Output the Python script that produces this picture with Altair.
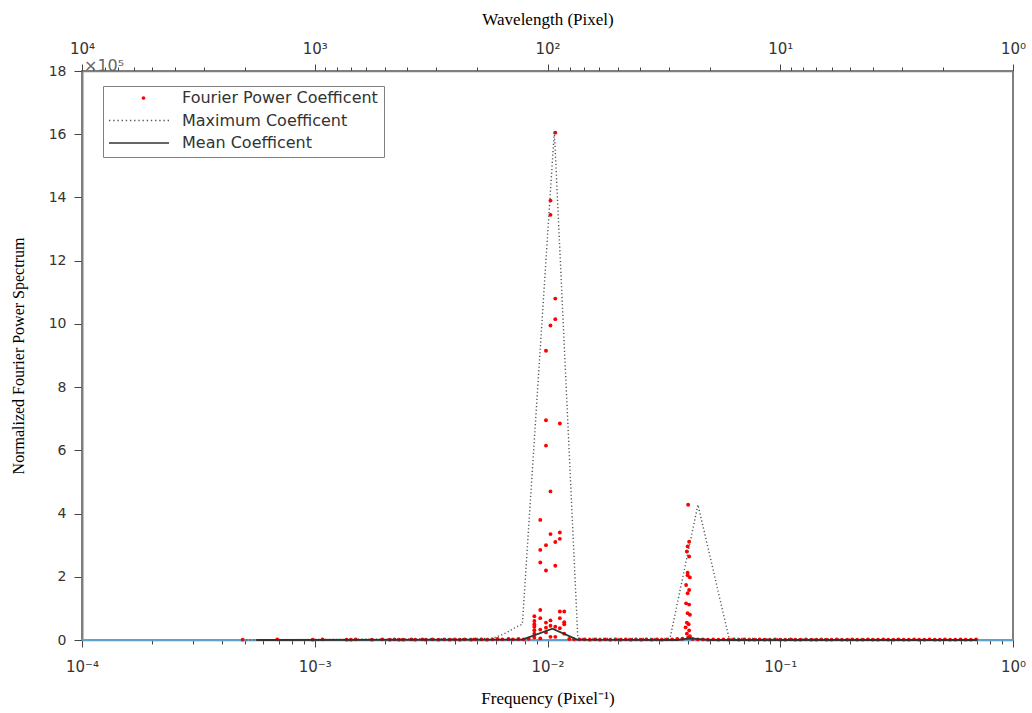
import altair as alt
import pandas as pd

# ---------------- data (frequency in 1/pixel, power in units of 1e5) ----------------
# near-zero Fourier power coefficients along the whole spectrum
BASE_POINTS = [
    (0.00049, 0.01), (0.00069, 0.02), (0.00098, 0.01), (0.00108, 0.02), (0.00137, 0.01),
    (0.00143, 0.01), (0.00150, 0.02), (0.00176, 0.01), (0.00195, 0.02),
    (0.0021, 0.01), (0.0022, 0.02), (0.0023, 0.01), (0.0024, 0.01), (0.0026, 0.02),
    (0.0027, 0.01), (0.0029, 0.02), (0.0030, 0.01), (0.0032, 0.02), (0.0034, 0.01),
    (0.0036, 0.02), (0.0038, 0.01), (0.0040, 0.02), (0.0042, 0.01), (0.0044, 0.02),
    (0.0047, 0.01), (0.0049, 0.02), (0.0052, 0.02), (0.0055, 0.01), (0.0058, 0.02),
    (0.0061, 0.03), (0.0064, 0.02), (0.0068, 0.03), (0.0071, 0.02), (0.0075, 0.03),
    (0.0079, 0.02), (0.0083, 0.04),
    (0.0124, 0.03), (0.0130, 0.02), (0.0137, 0.02), (0.0144, 0.02), (0.0152, 0.01),
    (0.0160, 0.02), (0.0168, 0.01), (0.0177, 0.02), (0.0186, 0.01), (0.0196, 0.02),
    (0.0206, 0.01), (0.0217, 0.02), (0.0228, 0.01), (0.0240, 0.02), (0.0253, 0.01),
    (0.0266, 0.02), (0.0280, 0.01), (0.0295, 0.02), (0.0310, 0.01), (0.0326, 0.02),
    (0.0343, 0.02), (0.0361, 0.03), (0.0380, 0.04),
    (0.0420, 0.03), (0.0442, 0.02), (0.0465, 0.02), (0.0489, 0.01), (0.0515, 0.02),
    (0.0542, 0.01), (0.0570, 0.02), (0.0600, 0.01), (0.0631, 0.02), (0.0664, 0.01),
    (0.0699, 0.02), (0.0736, 0.01), (0.0774, 0.01), (0.0815, 0.02), (0.0857, 0.01),
    (0.0902, 0.01), (0.0950, 0.02), (0.100, 0.01), (0.105, 0.01), (0.111, 0.02),
    (0.116, 0.01), (0.122, 0.01), (0.129, 0.02), (0.136, 0.01), (0.143, 0.01),
    (0.150, 0.02), (0.158, 0.01), (0.166, 0.01), (0.175, 0.02), (0.184, 0.01),
    (0.194, 0.01), (0.204, 0.02), (0.214, 0.01), (0.226, 0.01), (0.238, 0.02),
    (0.250, 0.01), (0.263, 0.01), (0.277, 0.02), (0.291, 0.01), (0.306, 0.01),
    (0.322, 0.02), (0.339, 0.01), (0.357, 0.01), (0.376, 0.02), (0.395, 0.01),
    (0.416, 0.01), (0.438, 0.02), (0.461, 0.01), (0.485, 0.01), (0.510, 0.02),
    (0.537, 0.01), (0.565, 0.01), (0.595, 0.02), (0.626, 0.01), (0.659, 0.01),
    (0.694, 0.02),
]

# first peak (~1e-2 pixel^-1)
PEAK1_POINTS = [
    (0.00878, 0.75), (0.00878, 0.60), (0.00878, 0.50), (0.00878, 0.42), (0.00878, 0.31),
    (0.00878, 0.20), (0.00878, 0.08),
    (0.00931, 3.80), (0.00931, 2.85), (0.00931, 2.45), (0.00931, 0.95), (0.00931, 0.69),
    (0.00931, 0.33), (0.00931, 0.05),
    (0.00985, 9.15), (0.00985, 6.95), (0.00985, 6.15), (0.00985, 3.00), (0.00985, 2.20),
    (0.00985, 0.55), (0.00985, 0.39), (0.00985, 0.24),
    (0.0103, 13.90), (0.0103, 13.45), (0.0103, 9.95), (0.0103, 4.70), (0.0103, 3.35),
    (0.0103, 0.62), (0.0103, 0.45), (0.0103, 0.10),
    (0.0108, 16.05), (0.0108, 10.80), (0.0108, 10.15), (0.0108, 3.10), (0.0108, 2.35),
    (0.0108, 0.42), (0.0108, 0.10),
    (0.0113, 6.85), (0.0113, 3.40), (0.0113, 3.20), (0.0113, 0.90), (0.0113, 0.69),
    (0.0113, 0.37),
    (0.0118, 0.90), (0.0118, 0.56), (0.0118, 0.50), (0.0118, 0.20),
]

# second peak (~4e-2 pixel^-1)
PEAK2_POINTS = [
    (0.0402, 4.28), (0.0406, 3.11), (0.0400, 2.96), (0.0397, 2.80), (0.0406, 2.64),
    (0.0400, 2.13), (0.0400, 2.05), (0.0409, 1.98), (0.0394, 1.74), (0.0406, 1.58),
    (0.0400, 1.48), (0.0394, 1.16), (0.0406, 1.12), (0.0400, 0.85), (0.0409, 0.80),
    (0.0397, 0.55), (0.0404, 0.50), (0.0392, 0.40), (0.0406, 0.30), (0.0397, 0.20),
    (0.0409, 0.12), (0.0402, 0.08),
]

# maximum coefficient envelope
MAX_FREQ = [0.00049, 0.0058, 0.0064, 0.0068, 0.0073, 0.0078, 0.0107, 0.0135, 0.0336, 0.0443, 0.0603, 0.70]
MAX_VALUE = [0.0, 0.05, 0.17, 0.27, 0.40, 0.50, 16.1, 0.05, 0.05, 4.28, 0.05, 0.0]

# mean coefficient
MEAN_FREQ = [0.00056, 0.0078, 0.0105, 0.0134, 0.0360, 0.0410, 0.0500, 0.70]
MEAN_VALUE = [0.0, 0.01, 0.36, 0.01, 0.0, 0.05, 0.0, 0.0]

# zero reference line over the full frequency range
ZERO_FREQ = [0.0001, 1.0]
ZERO_VALUE = [0.0, 0.0]

SERIES = ["Fourier Power Coefficent", "Maximum Coefficent", "Mean Coefficent"]
Y_TICKS = list(range(0, 19, 2))

# ---------------- frames ----------------
pts = BASE_POINTS + PEAK1_POINTS + PEAK2_POINTS
points_df = pd.DataFrame(pts, columns=["freq", "power"])
max_df = pd.DataFrame({"freq": MAX_FREQ, "power": MAX_VALUE})
mean_df = pd.DataFrame({"freq": MEAN_FREQ, "power": MEAN_VALUE})
zero_df = pd.DataFrame({"freq": ZERO_FREQ, "power": ZERO_VALUE})
legend_df = pd.DataFrame({"series": SERIES})
wl_df = pd.DataFrame({"wl": [1.0, 10000.0]})
mult_df = pd.DataFrame({"t": ["×10⁵"]})

# ---------------- axis helpers ----------------
freq_ticks = [m * 10.0 ** e for e in range(-4, 0) for m in range(1, 10)] + [1.0]
wl_ticks = [m * 10.0 ** e for e in range(0, 4) for m in range(1, 10)] + [10000.0]

EXP = "round(log(datum.value)/LN10)"
IS_DEC = f"abs(log(datum.value)/LN10 - {EXP}) < 0.001"
SUP = "['⁰','¹','²','³','⁴']"
freq_label = f"{IS_DEC} ? '10' + ({EXP} < 0 ? '⁻' : '') + {SUP}[abs({EXP})] : ''"
wl_label = f"{IS_DEC} ? '10' + {SUP}[abs({EXP})] : ''"
tick_size = {"condition": {"test": IS_DEC, "value": 7}, "value": 4}

SANS = "DejaVu Sans"
SERIF = "Liberation Serif"
AX_COL = "#7f7f7f"

x_freq = alt.X(
    "freq:Q",
    scale=alt.Scale(type="log", domain=[0.0001, 1.0], nice=False),
    axis=alt.Axis(
        values=freq_ticks, labelExpr=freq_label, tickSize=tick_size,
        title="Frequency (Pixel⁻¹)", titleFont=SERIF, titleFontSize=17,
        titleFontWeight="normal", titleColor="black", titlePadding=16,
        labelFont=SANS, labelFontSize=15, labelColor="#333", labelPadding=12,
        labelFlush=False, labelOverlap=False, grid=False,
        domainColor=AX_COL, domainWidth=1.5, tickColor="#444",
    ),
)
y_pow = alt.Y(
    "power:Q",
    scale=alt.Scale(domain=[0, 18], nice=False, zero=True),
    axis=alt.Axis(
        values=Y_TICKS, title="Normalized Fourier Power Spectrum",
        titleFont=SERIF, titleFontSize=16, titleFontWeight="normal",
        titleColor="black", titlePadding=22,
        labelFont=SANS, labelFontSize=14, labelColor="#333", labelPadding=8,
        tickSize=8, tickColor="#444", grid=False,
        domainColor=AX_COL, domainWidth=2,
    ),
)

zero_line = alt.Chart(zero_df).mark_line(color="#56AEE6", strokeWidth=1.5).encode(x=x_freq, y=y_pow)
points = alt.Chart(points_df).mark_circle(color="#FF0000", size=15, opacity=1).encode(x=x_freq, y=y_pow)
max_line = alt.Chart(max_df).mark_line(color="#555555", strokeWidth=1.4, strokeDash=[1.2, 2.4]).encode(x=x_freq, y=y_pow)
mean_line = alt.Chart(mean_df).mark_line(color="#333333", strokeWidth=1.8).encode(x=x_freq, y=y_pow)

# legend symbols (unit path coordinates in [-1, 1])
def dots_path(n=15, w=0.045):
    parts = []
    for i in range(n):
        x0 = -1 + i * (2 - w) / (n - 1)
        parts.append(f"M{x0:.3f},{-w / 2:.4f}h{w}v{w}h{-w}z")
    return " ".join(parts)

dot_path = "M0.21,0A0.06,0.06 0 1,1 0.09,0A0.06,0.06 0 1,1 0.21,0Z"
solid_path = "M-1,-0.028H1V0.028H-1Z"

leg = alt.Legend(
    title=None, orient="none", legendX=21, legendY=15, direction="vertical",
    fillColor="white", strokeColor="#808080", padding=6, cornerRadius=0,
    symbolSize=3600, symbolStrokeWidth=0, symbolOpacity=1,
    labelFont=SANS, labelFontSize=16, labelColor="#333", labelOffset=13,
    labelLimit=400, rowPadding=6.5, clipHeight=12,
)
legend_layer = alt.Chart(legend_df).mark_point(filled=True, opacity=0).encode(
    color=alt.Color("series:N", scale=alt.Scale(domain=SERIES, range=["#FF0000", "#555555", "#333333"]), legend=leg),
    shape=alt.Shape("series:N", scale=alt.Scale(domain=SERIES, range=[dot_path, dots_path(), solid_path]), legend=leg),
)

mult_text = alt.Chart(mult_df).mark_text(
    align="left", baseline="alphabetic", font=SANS, fontSize=16, color="#666"
).encode(x=alt.value(2), y=alt.value(0), text="t:N")

inner = alt.layer(zero_line, points, max_line, mean_line, legend_layer, mult_text)

top_axis = alt.Chart(wl_df).mark_point(opacity=0).encode(
    x=alt.X(
        "wl:Q",
        scale=alt.Scale(type="log", domain=[1.0, 10000.0], reverse=True, nice=False),
        axis=alt.Axis(
            orient="top", values=wl_ticks, labelExpr=wl_label, tickSize=tick_size,
            title="Wavelength (Pixel)", titleFont=SERIF, titleFontSize=17,
            titleFontWeight="normal", titleColor="black", titlePadding=13,
            labelFont=SANS, labelFontSize=15, labelColor="#333", labelPadding=8,
            labelFlush=False, labelOverlap=False, grid=False,
            domainColor=AX_COL, domainWidth=1.5, tickColor="#444",
        ),
    )
)

chart = (
    alt.layer(inner, top_axis)
    .resolve_scale(x="independent")
    .properties(
        width=931, height=569,
        autosize=alt.AutoSizeParams(type="none"),
        padding={"left": 82, "top": 71, "right": 19, "bottom": 73},
        background="white",
    )
    .configure_view(stroke=AX_COL, strokeWidth=2)
)

chart.save("out.html", embed_options={"renderer": "svg", "actions": False})
